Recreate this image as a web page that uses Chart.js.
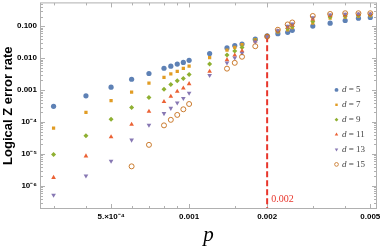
<!DOCTYPE html>
<html><head><meta charset="utf-8">
<script src="https://cdn.jsdelivr.net/npm/chart.js@4/dist/chart.umd.min.js"></script>
<style>html,body{margin:0;padding:0;background:#fff;}#wrap{width:382px;height:249px;position:relative;}canvas{display:block;}</style>
</head><body><div id="wrap"><canvas id="c" width="382" height="249"></canvas></div>
<script>
const pValues = [3e-4,4e-4,5e-4,6e-4,7e-4,8e-4,8.5e-4,9e-4,9.5e-4,1e-3,1.2e-3,1.4e-3,1.5e-3,1.6e-3,1.8e-3,2e-3,2.2e-3,2.4e-3,2.5e-3,3e-3,3.5e-3,4e-3,4.5e-3,5e-3];
const d5Rates  = [3.1e-4,6.6e-4,1.23e-3,2.18e-3,3.3e-3,4.8e-3,5.6e-3,6.5e-3,7.3e-3,8.5e-3,1.39e-2,2.08e-2,2.46e-2,2.75e-2,3.9e-2,5.0e-2,5.8e-2,6.4e-2,7.4e-2,0.100,0.124,0.150,0.177,0.186];
const d7Rates  = [6.4e-5,2.0e-4,4.7e-4,8.6e-4,1.64e-3,2.5e-3,3.2e-3,3.85e-3,4.8e-3,5.65e-3,1.04e-2,1.77e-2,2.16e-2,2.63e-2,3.8e-2,4.9e-2,6.6e-2,7.7e-2,8.9e-2,0.124,0.177,0.190,0.204,0.214];
const d9Rates  = [9.7e-6,3.7e-5,1.23e-4,2.83e-4,5.8e-4,1.05e-3,1.49e-3,1.94e-3,2.29e-3,3.04e-3,6.5e-3,1.24e-2,1.68e-2,2.13e-2,3.6e-2,4.8e-2,6.9e-2,8.5e-2,9.8e-2,0.143,0.194,0.207,0.219,0.225];
const d11Rates = [1.83e-6,8.6e-6,3.4e-5,8.4e-5,2.13e-4,4.35e-4,6.3e-4,9.1e-4,1.15e-3,1.57e-3,3.85e-3,8.85e-3,1.24e-2,1.68e-2,3.4e-2,4.8e-2,7.1e-2,9.3e-2,0.107,0.165,0.211,0.222,0.232,0.235];
const d13Rates = [5.2e-7,2.07e-6,6.0e-6,2.75e-5,8.0e-5,1.85e-4,2.7e-4,4.0e-4,5.5e-4,8.0e-4,2.89e-3,7.1e-3,1.02e-2,1.43e-2,3.2e-2,4.7e-2,7.3e-2,0.100,0.118,0.186,0.227,0.239,0.244,0.244];
const d15Rates = [null,null,null,4.1e-6,1.93e-5,7.85e-5,1.17e-4,1.67e-4,2.5e-4,3.66e-4,null,4.67e-3,7.1e-3,1.1e-2,2.35e-2,4.7e-2,7.7e-2,0.113,0.130,0.208,0.240,0.253,0.253,0.253];
const seriesLabels = ['5','7','9','11','13','15'];
const xMajorTicks = [5e-4,1e-3,2e-3,5e-3];
const xTickLabels = ['5.×10⁻⁴','0.001','0.002','0.005'];
const xMinorTicks = [3e-4,4e-4,6e-4,7e-4,8e-4,9e-4,1.5e-3,3e-3,4e-3];
const yMajorTicks = [1e-6,1e-5,1e-4,1e-3,1e-2,1e-1];
const yTickLabels = ['10⁻⁶','10⁻⁵','10⁻⁴','0.001','0.010','0.100'];
const thresholdP = 0.002;
const thresholdRate = 0.048;
const thresholdLabel = '0.002';

const X_MIN = 2.683e-4, X_MAX = 5.26e-3, Y_MIN = 2.04e-7, Y_MAX = 0.514;
const allRates = [d5Rates,d7Rates,d9Rates,d11Rates,d13Rates,d15Rates];
const styles = [
  {c:'#5E81B5', s:'circle', r:2.6, fill:true},
  {c:'#E19C24', s:'rect', r:2.3, fill:true},
  {c:'#8FB032', s:'rectRot', r:2.5, fill:true},
  {c:'#EB6235', s:'triangle', r:2.7, fill:true},
  {c:'#8778B3', s:'triangle', r:2.7, fill:true, rot:180},
  {c:'#C56E1A', s:'circle', r:2.5, fill:false}
];
const datasets = allRates.map((arr,i)=>({
  type:'scatter',
  label:'d = '+seriesLabels[i],
  data: pValues.map((p,k)=>({x:p,y:arr[k]})).filter(o=>o.y!==null),
  pointStyle: styles[i].s,
  pointRotation: styles[i].rot||0,
  pointRadius: styles[i].r,
  pointHoverRadius: styles[i].r,
  backgroundColor: styles[i].fill ? styles[i].c : 'rgba(0,0,0,0)',
  borderColor: styles[i].c,
  pointBorderWidth: styles[i].fill ? 0 : 0.9,
  borderWidth: styles[i].fill ? 0 : 0.9,
  order: 10 - i
}));
datasets.push({
  type:'line', label:'threshold',
  data:[{x:thresholdP,y:thresholdRate},{x:thresholdP,y:Y_MIN}],
  borderColor:'#E8352B', borderWidth:2, borderDash:[6,3],
  pointRadius:0, showLine:true, fill:false, order:20
});

const yMinorTicks = [];
for (let e=-7;e<=-1;e++) for (let m=2;m<=9;m++){const v=m*Math.pow(10,e); if(v>Y_MIN&&v<Y_MAX) yMinorTicks.push(v);}

const framePlugin = {
  id:'frame',
  beforeDatasetsDraw(chart){
    const {ctx, chartArea:a, scales:{x,y}} = chart;
    ctx.save();
    ctx.strokeStyle='#b0b0b0'; ctx.lineWidth=1;
    const L=a.left-0.5, R=a.right+0.5, T=a.top-0.5, B=a.bottom+0.5;
    ctx.strokeRect(L,T,R-L,B-T);
    ctx.beginPath();
    const vt=(v,len)=>{const px=Math.round(x.getPixelForValue(v))+0.5; ctx.moveTo(px,B); ctx.lineTo(px,B-len); ctx.moveTo(px,T); ctx.lineTo(px,T+len);};
    const ht=(v,len)=>{const py=Math.round(y.getPixelForValue(v))+0.5; ctx.moveTo(L,py); ctx.lineTo(L+len,py); ctx.moveTo(R,py); ctx.lineTo(R-len,py);};
    xMajorTicks.forEach(v=>vt(v,4.5)); xMinorTicks.forEach(v=>vt(v,2.5));
    yMajorTicks.forEach(v=>ht(v,4.5)); yMinorTicks.forEach(v=>ht(v,2.5));
    ctx.stroke();
    ctx.restore();
  },
  afterDraw(chart){
    const {ctx, chartArea:a, scales:{x}} = chart;
    ctx.save();
    ctx.fillStyle='#E8352B'; ctx.font='10px "Liberation Serif"'; ctx.textBaseline='middle'; ctx.textAlign='left';
    ctx.fillText(thresholdLabel, x.getPixelForValue(thresholdP)+4, a.bottom-9);
    const lx=a.right-39.5, ly0=a.top+86.5, dy=14.9;
    styles.forEach((st,i)=>{
      const yy=ly0+i*dy;
      const opts={pointStyle:st.s, rotation:st.rot||0, radius:st.r*0.75, borderWidth:st.fill?0:0.8};
      ctx.fillStyle= st.fill?st.c:'rgba(0,0,0,0)'; ctx.strokeStyle=st.c; ctx.lineWidth=opts.borderWidth;
      Chart.helpers.drawPoint(ctx, opts, lx, yy);
      ctx.fillStyle='#444'; ctx.textBaseline='middle';
      ctx.font='italic 9px "Liberation Serif"';
      ctx.fillText('d', lx+5.5, yy);
      const w=ctx.measureText('d').width;
      ctx.font='9px "Liberation Serif"';
      ctx.fillText(' = '+seriesLabels[i], lx+5.5+w, yy);
    });
    ctx.restore();
  }
};

new Chart(document.getElementById('c'), {
  type:'scatter',
  data:{datasets},
  options:{
    responsive:false, animation:false, devicePixelRatio:1,
    layout:{padding:{top:1,right:6,left:0,bottom:0}},
    plugins:{legend:{display:false}, tooltip:{enabled:false}},
    scales:{
      x:{type:'logarithmic', min:X_MIN, max:X_MAX,
        afterBuildTicks:(s)=>{s.ticks=xMajorTicks.map(v=>({value:v}));},
        afterFit:(s)=>{s.height=41; s.paddingLeft=0; s.paddingRight=0;},
        grid:{display:false, drawTicks:false}, border:{display:false},
        ticks:{autoSkip:false, maxRotation:0, padding:4, color:'#000',
          font:{family:'"Liberation Sans"', size:8, weight:'bold'},
          callback:(v)=>{const i=xMajorTicks.findIndex(t=>Math.abs(t-v)/t<1e-6); return i>=0?xTickLabels[i]:'';}},
        title:{display:true, text:'p', color:'#000', padding:{top:0,bottom:1},
          font:{family:'"Liberation Serif"', size:21, style:'italic'}}
      },
      y:{type:'logarithmic', min:Y_MIN, max:Y_MAX,
        afterBuildTicks:(s)=>{s.ticks=yMajorTicks.map(v=>({value:v}));},
        afterFit:(s)=>{s.width=41; s.paddingTop=0; s.paddingBottom=0;},
        grid:{display:false, drawTicks:false}, border:{display:false},
        ticks:{autoSkip:false, padding:4, color:'#000',
          font:{family:'"Liberation Sans"', size:8, weight:'bold'},
          callback:(v)=>{const i=yMajorTicks.findIndex(t=>Math.abs(t-v)/t<1e-6); return i>=0?yTickLabels[i]:'';}},
        title:{display:true, text:'Logical Z error rate', color:'#000', padding:{top:1,bottom:0},
          font:{family:'"Liberation Sans"', size:13, weight:'bold'}}
      }
    }
  },
  plugins:[framePlugin]
});
</script></body></html>
